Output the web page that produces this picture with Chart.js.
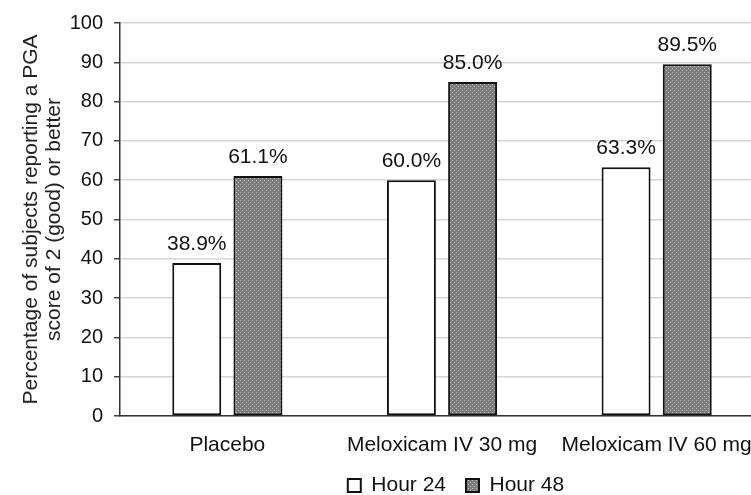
<!DOCTYPE html>
<html>
<head>
<meta charset="utf-8">
<script src="https://cdn.jsdelivr.net/npm/chart.js@4.4.1/dist/chart.umd.min.js"></script>
<style>
  html, body { margin: 0; padding: 0; background: #fff; overflow: hidden; }
  #wrap { width: 766px; height: 506px; }
</style>
</head>
<body>
<div id="wrap"><canvas id="pga-chart"></canvas></div>
<script>
// Données du graphique
const categories = ["Placebo", "Meloxicam IV 30 mg", "Meloxicam IV 60 mg"];
const hour24 = [38.9, 60.0, 63.3];
const hour48 = [61.1, 85.0, 89.5];
const seriesNames = ["Hour 24", "Hour 48"];
const yTicks = [0, 10, 20, 30, 40, 50, 60, 70, 80, 90, 100];

// Motif gris pointillé pour Hour 48
const pc = document.createElement("canvas");
pc.width = 4;
pc.height = 4;
const pctx = pc.getContext("2d");
pctx.fillStyle = "#7c7c7c";
pctx.fillRect(0, 0, 4, 4);
pctx.fillStyle = "#bdbdbd";
pctx.fillRect(0, 0, 1, 1);
pctx.fillRect(2, 2, 1, 1);
const ctxMain = document.getElementById("pga-chart").getContext("2d");
const grayPattern = ctxMain.createPattern(pc, "repeat");

const font = "'Liberation Sans', Arial, sans-serif";

// Étiquettes au-dessus des barres
const valueLabels = {
  id: "valueLabels",
  afterDatasetsDraw(chart) {
    const ctx = chart.ctx;
    ctx.save();
    ctx.font = "21px " + font;
    ctx.fillStyle = "#111";
    ctx.textAlign = "center";
    ctx.textBaseline = "alphabetic";
    chart.data.datasets.forEach((ds, i) => {
      chart.getDatasetMeta(i).data.forEach((bar, j) => {
        ctx.fillText(ds.data[j].toFixed(1) + "%", bar.x, bar.y - 13);
      });
    });
    ctx.restore();
  },
};

// Décale un peu la légende vers la droite, comme sur l'original
const legendShift = {
  id: "legendShift",
  afterUpdate(chart) {
    if (chart.legend) {
      chart.legend.left += 14;
      chart.legend.right += 14;
    }
  },
};

const data = {
  labels: categories,
  datasets: [
    {
      label: seriesNames[0],
      data: hour24,
      backgroundColor: "#ffffff",
      borderColor: "#111111",
      borderWidth: 2,
      borderSkipped: false,
    },
    {
      label: seriesNames[1],
      data: hour48,
      backgroundColor: grayPattern,
      borderColor: "#111111",
      borderWidth: 2,
      borderSkipped: false,
    },
  ],
};

const options = {
  responsive: true,
  maintainAspectRatio: false,
  animation: false,
  layout: { padding: { top: 10, right: 2, left: 0, bottom: 0 } },
  datasets: { bar: { categoryPercentage: 0.57, barPercentage: 0.8 } },
  scales: {
    x: {
      grid: { display: false },
      border: { display: true, color: "#333", width: 1.5 },
      ticks: { color: "#111", font: { family: font, size: 21 }, padding: 9, maxRotation: 0, autoSkip: false },
      afterFit: (scale) => { scale.height = 39; },
    },
    y: {
      min: 0,
      max: 100,
      afterBuildTicks: (scale) => { scale.ticks = yTicks.map((v) => ({ value: v })); },
      afterFit: (scale) => { scale.width = 120; },
      grid: { color: "#d6d6d6", lineWidth: 1.5, tickColor: "#444", tickLength: 6 },
      border: { display: true, color: "#333", width: 1.5 },
      ticks: { color: "#111", font: { family: font, size: 20 }, padding: 11 },
      title: {
        display: true,
        text: ["Percentage of subjects reporting a PGA", "score of 2 (good) or better"],
        color: "#222",
        font: { family: font, size: 21, lineHeight: 1.1 },
        padding: { top: 20, bottom: 0 },
      },
    },
  },
  plugins: {
    legend: {
      position: "bottom",
      fullSize: false,
      labels: {
        color: "#111",
        font: { family: font, size: 21 },
        boxWidth: 13,
        boxHeight: 13,
        padding: 20,
      },
    },
    tooltip: { enabled: false },
  },
};

// Création du graphique
new Chart(ctxMain, {
  type: "bar",
  data: data,
  options: options,
  plugins: [valueLabels, legendShift],
});
</script>
</body>
</html>
